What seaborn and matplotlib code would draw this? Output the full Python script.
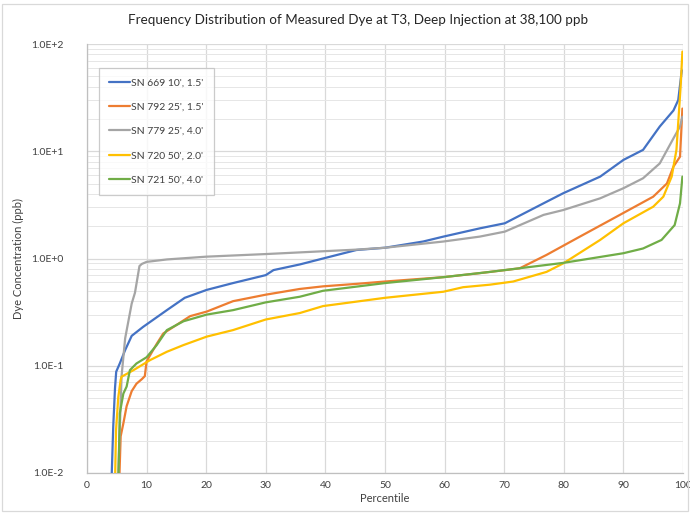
import matplotlib
matplotlib.use("Agg")
import matplotlib.pyplot as plt
import seaborn as sns
import pandas as pd
import numpy as np
from matplotlib.ticker import FixedLocator, LogLocator, NullFormatter

# ---------------- data ----------------
series_names = ["SN 669 10', 1.5'", "SN 792 25', 1.5'", "SN 779 25', 4.0'",
                "SN 720 50', 2.0'", "SN 721 50', 4.0'"]

blue_p = [4.1, 4.4, 4.7, 4.9, 5.5, 6.4, 7.5, 9.4, 13.4, 16.4, 20.1, 24.5, 30.0, 31.3,
          35.7, 39.6, 45.2, 50.0, 56.4, 59.8, 65.9, 70.1, 76.6, 79.9, 86.1, 90.0,
          93.3, 96.1, 98.4, 99.2, 99.8]
blue_v = [0.008, 0.027, 0.062, 0.088, 0.105, 0.14, 0.19, 0.23, 0.33, 0.43, 0.51, 0.59,
          0.70, 0.78, 0.88, 1.0, 1.2, 1.26, 1.44, 1.60, 1.91, 2.13, 3.27, 4.06, 5.8,
          8.3, 10.3, 17.0, 24.0, 30.0, 57.0]

orange_p = [5.4, 5.65, 6.1, 6.65, 7.5, 8.3, 9.2, 9.7, 10.0, 11.7, 12.8, 14.5, 17.3,
            20.1, 24.5, 30.0, 35.7, 39.6, 45.2, 50.0, 59.8, 65.9, 72.6, 77.1, 82.7,
            89.4, 95.0, 97.3, 98.4, 99.5, 99.9]
orange_v = [0.008, 0.022, 0.029, 0.042, 0.058, 0.068, 0.075, 0.08, 0.11, 0.16, 0.20,
            0.23, 0.29, 0.32, 0.40, 0.46, 0.52, 0.55, 0.58, 0.61, 0.67, 0.73, 0.81,
            1.08, 1.6, 2.55, 3.77, 5.0, 7.2, 8.9, 25.0]

gray_p = [5.2, 5.8, 6.4, 7.5, 8.05, 8.8, 9.2, 10.0, 13.4, 20.0, 30.0, 35.7, 45.2,
          50.0, 59.8, 65.9, 70.1, 76.6, 79.9, 86.1, 90.0, 93.3, 96.1, 98.4, 99.5, 99.9]
gray_v = [0.008, 0.08, 0.18, 0.38, 0.48, 0.85, 0.89, 0.93, 0.98, 1.04, 1.10, 1.14,
          1.21, 1.26, 1.44, 1.6, 1.78, 2.55, 2.83, 3.64, 4.52, 5.6, 7.7, 13.2, 17.0, 21.0]

yellow_p = [4.7, 4.87, 5.25, 5.65, 5.8, 7.8, 10.6, 13.4, 16.2, 20.1, 24.5, 30.0, 35.7,
            39.6, 50.0, 59.8, 63.1, 67.6, 71.5, 77.1, 79.9, 86.1, 90.0, 95.0, 96.7,
            98.1, 98.9, 99.6, 99.9]
yellow_v = [0.008, 0.025, 0.051, 0.074, 0.079, 0.091, 0.113, 0.135, 0.156, 0.187,
            0.215, 0.27, 0.31, 0.36, 0.43, 0.49, 0.54, 0.57, 0.61, 0.75, 0.90, 1.49,
            2.13, 3.04, 3.77, 5.8, 10.3, 40.0, 85.0]

green_p = [5.25, 5.5, 6.1, 6.65, 7.2, 8.3, 10.0, 11.7, 13.4, 16.2, 20.1, 24.5, 30.0,
           35.7, 39.6, 50.0, 59.8, 67.6, 79.9, 90.0, 93.3, 96.4, 98.6, 99.5, 99.9]
green_v = [0.008, 0.036, 0.055, 0.064, 0.091, 0.105, 0.12, 0.156, 0.215, 0.26, 0.30,
           0.33, 0.39, 0.44, 0.50, 0.59, 0.67, 0.75, 0.91, 1.12, 1.24, 1.49, 2.05,
           3.27, 5.8]

x_ticks = [0, 10, 20, 30, 40, 50, 60, 70, 80, 90, 100]
y_ticks = [0.01, 0.1, 1, 10, 100]
y_tick_labels = ["1.0E-2", "1.0E-1", "1.0E+0", "1.0E+1", "1.0E+2"]

title = "Frequency Distribution of Measured Dye at T3, Deep Injection at 38,100 ppb"
xlabel = "Percentile"
ylabel = "Dye Concentration (ppb)"

colors = ["#4472C4", "#ED7D31", "#A5A5A5", "#FFC000", "#70AD47"]

# ---------------- build long table ----------------
frames = []
for name, p, v in zip(series_names,
                      [blue_p, orange_p, gray_p, yellow_p, green_p],
                      [blue_v, orange_v, gray_v, yellow_v, green_v]):
    frames.append(pd.DataFrame({"Percentile": p, "Conc": v, "Series": name}))
df = pd.concat(frames, ignore_index=True)

# ---------------- plot ----------------
sns.set_theme(style="white")
plt.rcParams["font.family"] = ["Lato", "DejaVu Sans"]

fig = plt.figure(figsize=(6.9, 5.13), dpi=100)
ax = fig.add_axes([87 / 690, 1 - 473 / 513, 596 / 690, 429 / 513])

sns.lineplot(data=df, x="Percentile", y="Conc", hue="Series", hue_order=series_names,
             palette=colors, estimator=None, sort=False, linewidth=1.6, ax=ax,
             zorder=3)

ax.set_yscale("log")
ax.set_xlim(0, 100)
ax.set_ylim(0.01, 100)

ax.xaxis.set_major_locator(FixedLocator(x_ticks))
ax.set_xticklabels([str(t) for t in x_ticks])
ax.yaxis.set_major_locator(FixedLocator(y_ticks))
ax.set_yticklabels(y_tick_labels)
ax.yaxis.set_minor_locator(LogLocator(base=10, subs=np.arange(2, 10)))
ax.yaxis.set_minor_formatter(NullFormatter())

ax.grid(True, which="major", axis="both", color="#D9D9D9", linewidth=0.9, zorder=0)
ax.grid(True, which="minor", axis="y", color="#E6E6E6", linewidth=0.7, zorder=0)
ax.set_axisbelow(True)

for s in ["top", "right"]:
    ax.spines[s].set_visible(False)
for s in ["left", "bottom"]:
    ax.spines[s].set_color("#BFBFBF")
    ax.spines[s].set_linewidth(0.9)

ax.tick_params(axis="both", which="both", length=0, colors="#404040", labelsize=7.5)
ax.tick_params(axis="y", pad=17)
ax.tick_params(axis="x", pad=6)

ax.set_xlabel(xlabel, fontsize=8, color="#404040", labelpad=2)
ax.set_ylabel(ylabel, fontsize=8, color="#404040", labelpad=5)

fig.text(0.519, 1 - 20 / 513, title, ha="center", va="center", fontsize=9.7,
         color="#262626")

leg = ax.legend(loc="upper left", bbox_to_anchor=(0.02, 0.945), borderaxespad=0,
                fontsize=7.5, frameon=True, fancybox=False, labelspacing=1.45,
                handlelength=2.0, handletextpad=0.1, borderpad=1.0,
                title=None)
leg.get_frame().set_edgecolor("#BFBFBF")
leg.get_frame().set_linewidth(0.9)
for t in leg.get_texts():
    t.set_color("#404040")
for h in leg.get_lines():
    h.set_linewidth(1.6)

# chart-area border
fig.patches.append(plt.Rectangle((0.003, 0.003), 0.994, 0.990, transform=fig.transFigure,
                                 fill=False, edgecolor="#D9D9D9", linewidth=0.9))

fig.savefig("out.png", dpi=100)
